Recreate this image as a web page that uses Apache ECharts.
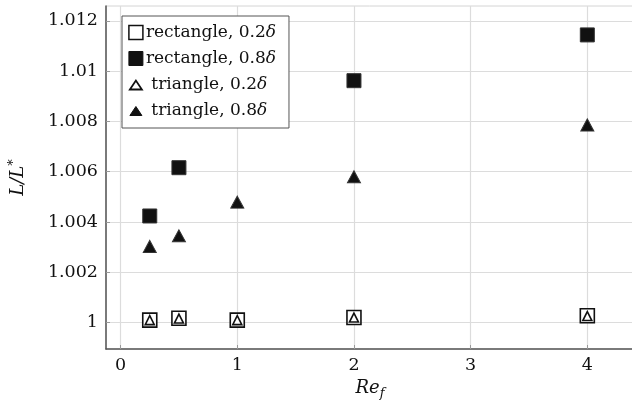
<!DOCTYPE html>
<html>
<head>
<meta charset="utf-8">
<script src="https://cdn.jsdelivr.net/npm/echarts@6/dist/echarts.min.js"></script>
<style>
  html, body { margin: 0; padding: 0; background: #fff; }
  #chart { width: 632px; height: 409px; }
</style>
</head>
<body>
<div id="chart"></div>
<script>
// Re_f values
var xVals = [0.25, 0.5, 1, 2, 4];
var xRect08 = [0.25, 0.5, 2, 4];
// L/L* values
var rect02 = [1.0001, 1.00017, 1.0001, 1.0002, 1.00027];
var rect08 = [1.00424, 1.00616, 1.00962, 1.01144];
var tri02 = [1.0001, 1.00016, 1.0001, 1.0002, 1.00026];
var tri08 = [1.00303, 1.00345, 1.00479, 1.0058, 1.00786];
var xTicks = [0, 1, 2, 3, 4];
var yTicks = [1, 1.002, 1.004, 1.006, 1.008, 1.01, 1.012];
var seriesNames = ["rectangle, 0.2δ", "rectangle, 0.8δ", "triangle, 0.2δ", "triangle, 0.8δ"];

function pairs(xs, ys) {
    var out = [];
    for (var i = 0; i < xs.length; i++) {
        out.push([xs[i], ys[i]]);
    }
    return out;
}

var serif = "DejaVu Serif";
// small triangle inside a 14x14 icon box
var triIcon = "path://M0,0M14,14M1,12L7,3L13,12Z";
var myChart = echarts.init(document.getElementById("chart"));

var option = {
    animation: false,
    backgroundColor: "#fff",
    grid: {
        left: 106, right: -2, top: 6, bottom: 60,
        outerBoundsMode: "none", containLabel: false,
        show: true, borderColor: "#d4d4d4", borderWidth: 1
    },
    legend: {
        orient: "vertical",
        left: 122,
        top: 16,
        padding: [8, 13, 9, 6],
        itemGap: 9,
        itemWidth: 14,
        itemHeight: 14,
        borderColor: "#555",
        borderWidth: 1,
        backgroundColor: "#fff",
        borderRadius: 0,
        formatter: function (name) {
            var pre = name.indexOf("triangle") === 0 ? " " : "";
            return "{a|" + pre + name.replace("δ", "") + "}{d|δ}";
        },
        textStyle: {
            fontFamily: serif,
            fontSize: 17,
            color: "#111",
            padding: [0, 0, 0, -2],
            rich: {
                a: { fontFamily: serif, fontSize: 17, color: "#111", lineHeight: 20 },
                d: { fontFamily: serif, fontSize: 17, fontStyle: "italic", color: "#111", lineHeight: 20 }
            }
        },
        data: [
            { name: seriesNames[0], icon: "rect", itemStyle: { color: "#fff", borderColor: "#111", borderWidth: 1.5 } },
            { name: seriesNames[1], icon: "rect", itemStyle: { color: "#111", borderColor: "#111", borderWidth: 1 } },
            { name: seriesNames[2], icon: triIcon, itemStyle: { color: "#fff", borderColor: "#111", borderWidth: 1.8 } },
            { name: seriesNames[3], icon: triIcon, itemStyle: { color: "#111", borderColor: "#111", borderWidth: 1 } }
        ]
    },
    xAxis: {
        type: "value",
        min: -0.125,
        max: 4.4,
        name: "{i|Re}{s|f}",
        nameLocation: "middle",
        nameGap: 28,
        nameTextStyle: {
            rich: {
                i: { fontFamily: serif, fontStyle: "italic", fontSize: 18, color: "#111" },
                s: { fontFamily: serif, fontStyle: "italic", fontSize: 13, color: "#111", padding: [10, 0, 0, 0] }
            }
        },
        axisLine: { show: true, onZero: false, lineStyle: { color: "#555", width: 1.5 } },
        axisTick: { show: true, inside: true, length: 4, customValues: xTicks, lineStyle: { color: "#999" } },
        axisLabel: { customValues: xTicks, margin: 7, fontFamily: serif, fontSize: 17.5, color: "#111" },
        splitLine: { show: true, lineStyle: { color: "#dcdcdc", width: 1.2 } }
    },
    yAxis: {
        type: "value",
        min: 0.99895,
        max: 1.01259,
        name: "{i|L/L}{s|*}",
        nameLocation: "middle",
        nameGap: 76,
        nameRotate: 90,
        nameTextStyle: {
            rich: {
                i: { fontFamily: serif, fontStyle: "italic", fontSize: 18, color: "#111" },
                s: { fontFamily: serif, fontSize: 13, color: "#111", padding: [0, 0, 10, 0] }
            }
        },
        axisLine: { show: true, onZero: false, lineStyle: { color: "#555", width: 1.5 } },
        axisTick: { show: true, inside: true, length: 4, customValues: yTicks, lineStyle: { color: "#999" } },
        axisLabel: {
            customValues: yTicks,
            margin: 8,
            fontFamily: serif,
            fontSize: 17.5,
            color: "#111",
            formatter: function (v) { return String(+v.toFixed(3)); }
        },
        splitLine: { show: true, lineStyle: { color: "#dcdcdc", width: 1.2 } }
    },
    series: [
        {
            name: seriesNames[0],
            type: "scatter",
            symbol: "rect",
            symbolSize: 14,
            itemStyle: { color: "#fff", borderColor: "#111", borderWidth: 1.6, opacity: 1 },
            data: pairs(xVals, rect02),
            z: 2
        },
        {
            name: seriesNames[1],
            type: "scatter",
            symbol: "rect",
            symbolSize: 14,
            itemStyle: { color: "#111", borderColor: "#333", borderWidth: 1, opacity: 1 },
            data: pairs(xRect08, rect08),
            z: 2
        },
        {
            name: seriesNames[2],
            type: "scatter",
            symbol: "triangle",
            symbolSize: [9, 9],
            itemStyle: { color: "#fff", borderColor: "#111", borderWidth: 1.6, opacity: 1 },
            data: pairs(xVals, tri02),
            z: 3
        },
        {
            name: seriesNames[3],
            type: "scatter",
            symbol: "triangle",
            symbolSize: [13, 12],
            itemStyle: { color: "#111", borderColor: "#333", borderWidth: 1, opacity: 1 },
            data: pairs(xVals, tri08),
            z: 3
        }
    ]
};

myChart.setOption(option);
</script>
</body>
</html>
